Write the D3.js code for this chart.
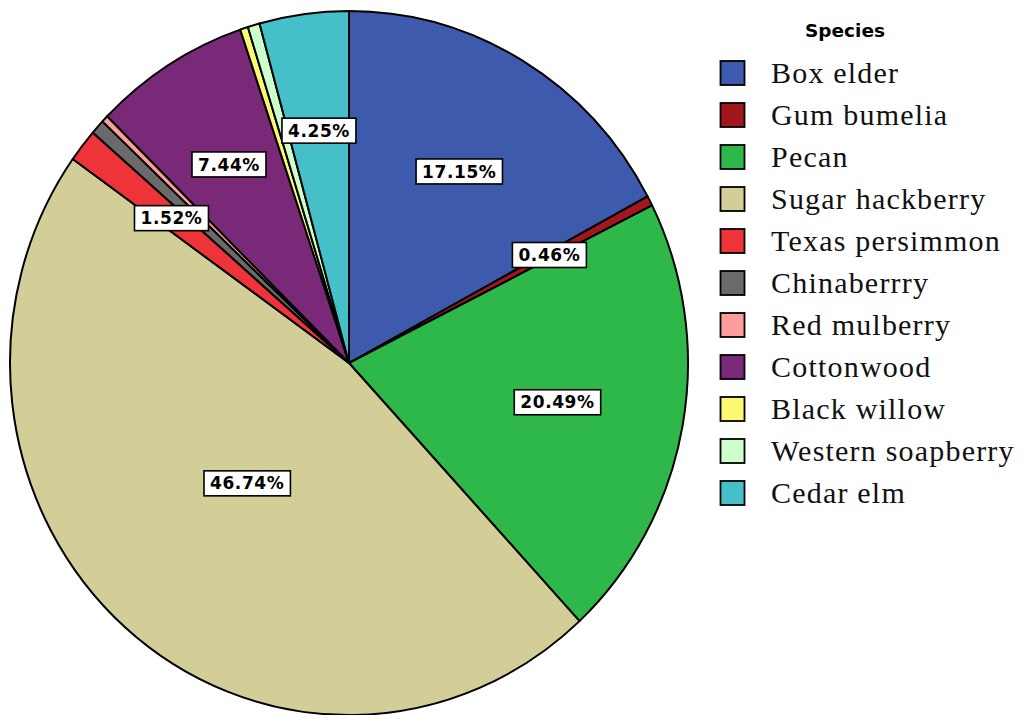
<!DOCTYPE html>
<html>
<head>
<meta charset="utf-8">
<script src="https://cdn.jsdelivr.net/npm/d3@7"></script>
<style>
  html, body { margin: 0; padding: 0; background: #fff; }
  svg { display: block; }
</style>
</head>
<body>
<svg id="chart" width="1024" height="715"></svg>
<script>
// Species composition (percent of stems)
const species = [
  "Box elder", "Gum bumelia", "Pecan", "Sugar hackberry", "Texas persimmon",
  "Chinaberrry", "Red mulberry", "Cottonwood", "Black willow",
  "Western soapberry", "Cedar elm"
];
const shares = [17.15, 0.46, 20.49, 46.74, 1.52, 0.68, 0.32, 7.44, 0.38, 0.57, 4.25];
const colors = [
  "#3E5AAD", "#A3161C", "#2FB84A", "#D3CE98", "#EE3339",
  "#6A6A6A", "#FF9C9C", "#7A2979", "#FCF871", "#CCFFCC", "#46C0C8"
];
// Slices that carry a value label
const labelled = ["Box elder", "Gum bumelia", "Pecan", "Sugar hackberry",
                  "Texas persimmon", "Cottonwood", "Cedar elm"];

const data = species.map((s, i) => ({ species: s, value: shares[i], color: colors[i] }));

const svg = d3.select("#chart");

// Pie geometry (slightly taller than wide)
const cx = 349, cy = 363, rx = 339, ry = 352;
const sy = ry / rx;

const pie = d3.pie().sort(null).value(d => d.value);
const arcs = pie(data);
const arc = d3.arc().innerRadius(0).outerRadius(rx);

const g = svg.append("g").attr("transform", `translate(${cx},${cy}) scale(1,${sy})`);

g.selectAll("path.slice")
  .data(arcs)
  .enter().append("path")
  .attr("class", "slice")
  .attr("d", arc)
  .attr("fill", d => d.data.color)
  .attr("stroke", "#000")
  .attr("stroke-width", 2)
  .attr("stroke-linejoin", "round")
  .attr("vector-effect", "non-scaling-stroke");

// Value labels: white boxes placed along each slice's mid-angle
const labelRadius = d => ({ "Sugar hackberry": 0.455, "Box elder": 0.634, "Pecan": 0.625 }[d.data.species] || 0.666);
const fmt = v => v.toFixed(2) + "%";

const labels = svg.append("g").attr("class", "labels");
arcs.filter(d => labelled.includes(d.data.species)).forEach(d => {
  const a = (d.startAngle + d.endAngle) / 2;
  const f = labelRadius(d);
  const x = cx + Math.sin(a) * rx * f;
  const y = cy - Math.cos(a) * ry * f;
  const lg = labels.append("g").attr("transform", `translate(${x},${y})`);
  const rect = lg.append("rect");
  const t = lg.append("text")
    .attr("text-anchor", "middle")
    .attr("dy", "0.36em")
    .attr("font-family", "DejaVu Sans, Verdana, sans-serif")
    .attr("font-weight", "bold")
    .attr("font-size", 17)
    .attr("letter-spacing", 0.6)
    .attr("fill", "#000")
    .text(fmt(d.data.value));
  const w = t.node().getComputedTextLength();
  rect.attr("x", -w / 2 - 6).attr("y", -12.5)
    .attr("width", w + 12).attr("height", 25)
    .attr("fill", "#fff").attr("stroke", "#000").attr("stroke-width", 1.6);
});

// Legend
const legend = svg.append("g").attr("class", "legend");
legend.append("text")
  .attr("x", 845).attr("y", 37)
  .attr("text-anchor", "middle")
  .attr("font-family", "DejaVu Sans, Verdana, sans-serif")
  .attr("font-weight", "bold")
  .attr("font-size", 18.5)
  .text("Species");

const rowY = d3.scalePoint().domain(species).range([73, 493]);

const rows = legend.selectAll("g.row")
  .data(data)
  .enter().append("g")
  .attr("class", "row")
  .attr("transform", d => `translate(0,${rowY(d.species)})`);

rows.append("rect")
  .attr("x", 720.5).attr("y", -12)
  .attr("width", 24).attr("height", 24)
  .attr("fill", d => d.color)
  .attr("stroke", "#000")
  .attr("stroke-width", 1.8);

rows.append("text")
  .attr("x", 771)
  .attr("dy", "0.34em")
  .attr("font-family", "Liberation Serif, Times New Roman, serif")
  .attr("font-size", 30)
  .attr("letter-spacing", 1.2)
  .attr("fill", "#111")
  .text(d => d.species);
</script>
</body>
</html>
